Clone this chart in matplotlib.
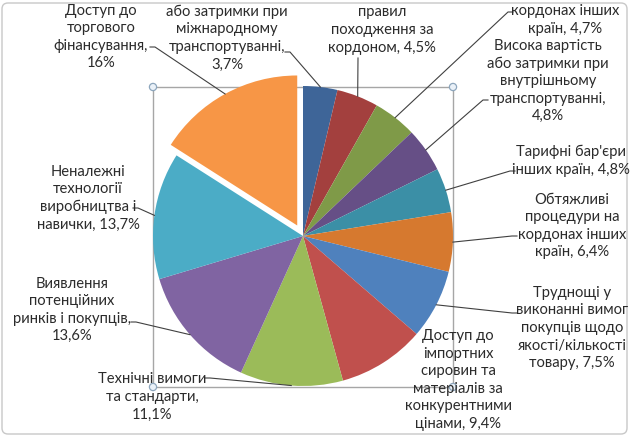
import numpy as np
import matplotlib
matplotlib.use("Agg")
import matplotlib.pyplot as plt
from matplotlib.patches import FancyBboxPatch, Rectangle, Circle

# ---- data ----
labels = [
    "або затримки при\nміжнародному\nтранспортуванні,\n3,7%",
    "правил\nпоходження за\nкордоном, 4,5%",
    "кордонах інших\nкраїн, 4,7%",
    "Висока вартість\nабо затримки при\nвнутрішньому\nтранспортуванні,\n4,8%",
    "Тарифні бар'єри\nінших країн, 4,8%",
    "Обтяжливі\nпроцедури на\nкордонах інших\nкраїн, 6,4%",
    "Труднощі у\nвиконанні вимог\nпокупців щодо\nякості/кількості\nтовару, 7,5%",
    "Доступ до\nімпортних\nсировин та\nматеріалів за\nконкурентними\nцінами, 9,4%",
    "Технічні вимоги\nта стандарти,\n11,1%",
    "Виявлення\nпотенційних\nринків і покупців,\n13,6%",
    "Неналежні\nтехнології\nвиробництва і\nнавички, 13,7%",
    "Доступ до\nторгового\nфінансування,\n16%",
]
values = [3.7, 4.5, 4.7, 4.8, 4.8, 6.4, 7.5, 9.4, 11.1, 13.6, 13.7, 16.0]

# ---- style / layout ----
colors = ["#3E6598", "#A3403E", "#7F9A48", "#664F86", "#3B8FA6", "#D6792F",
          "#4F81BD", "#C0504D", "#9BBB59", "#8064A2", "#4BACC6", "#F79646"]
W, H = 630, 436
cx, cy_top, R = 303, 236, 150
explode_px = [0] * 11 + [12]

# label centres (pixels from top-left)
label_pos = [(227, 38), (382, 30), (565, 20), (548, 81), (571, 161), (572, 226),
             (572, 328), (458, 380), (152, 397), (72, 310), (88, 198), (101, 37)]
# text-side anchor of leader line and horizontal elbow direction (None -> no leader)
leader_anchor = [(285, 52, 1), (358, 58, 0), (513, 12, -1), (488, 100, -1),
                 (515, 171, -1), (517, 236, -1), (517, 313, -1), None,
                 (205, 378, 1), (131, 322, 1), (133, 208, 1), (150, 47, 1)]

plt.rcParams['font.family'] = ['Lato', 'DejaVu Sans']

fig = plt.figure(figsize=(W / 100, H / 100), dpi=100)
ax = fig.add_axes([0, 0, 1, 1])

def py(y):
    return H - y

# chart border
ax.add_patch(FancyBboxPatch((2, 2), W - 5, H - 5, boxstyle="round,pad=0,rounding_size=6",
                            fc="white", ec="#C8C8C8", lw=1.0, zorder=0))

# plot-area selection box
x0, x1, y0, y1 = 153, 453, 87, 387
ax.add_patch(Rectangle((x0, py(y1)), x1 - x0, y1 - y0, fill=False, ec="#A6A6A6", lw=1.0, zorder=1))

wedges, _ = ax.pie(values, colors=colors, startangle=90, counterclock=False,
                   center=(cx, py(cy_top)), radius=R, explode=explode_px,
                   wedgeprops=dict(linewidth=0, zorder=2), frame=False)
for w in wedges:
    w.set_zorder(2)

for (x, y) in [(x0, y0), (x1, y0), (x0, y1), (x1, y1)]:
    ax.add_patch(Circle((x, py(y)), 3.6, fc="#EAF1F8", ec="#8DA6BD", lw=0.9, zorder=5))

# labels and leader lines
total = sum(values)
cum = np.cumsum([0] + values[:-1])
for i, (lab, v) in enumerate(zip(labels, values)):
    tx, ty = label_pos[i]
    ax.text(tx, py(ty), lab, ha="center", va="center", multialignment="center",
            fontsize=10.6, color="#2B2B2B", linespacing=1.32, zorder=6)
    la = leader_anchor[i]
    if la is None:
        continue
    mid = (cum[i] + v / 2) / total * 2 * np.pi
    r = R + explode_px[i]
    ex = cx + r * np.sin(mid)
    ey = cy_top - r * np.cos(mid)
    ax_, ay_, d = la
    if d == 0:
        xs, ys = [ax_, ex], [ay_, ey]
    else:
        xs, ys = [ax_, ax_ + 5 * d, ex], [ay_, ay_, ey]
    ax.plot(xs, [py(y) for y in ys], color="#404040", lw=0.8, zorder=4)

ax.set_xlim(0, W)
ax.set_ylim(0, H)
ax.set_aspect("auto")
ax.axis("off")
fig.savefig("out.png", dpi=100)
